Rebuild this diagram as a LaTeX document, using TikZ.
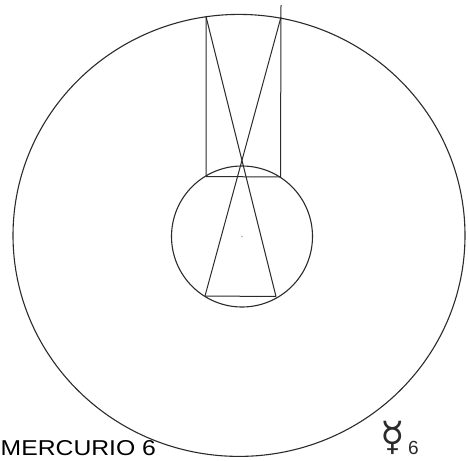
\documentclass[tikz,border=0pt]{standalone}
\usepackage{fontspec}
\setmainfont{Liberation Sans}
\newfontfamily\symfont{DejaVu Sans}
\usetikzlibrary{calc}
\definecolor{Ink}{HTML}{2B2B2B}
\tikzset{
  orbit/.style={draw=Ink, line width=1.1pt},
  ray/.style={draw=Ink, line width=1pt},
  caption/.style={inner sep=0pt, anchor=base west, text=black,
    font=\fontsize{21.5}{24}\selectfont},
}

\begin{document}
\begin{tikzpicture}[x=1pt,y=-1pt]
  \useasboundingbox (0,0) rectangle (468,460);
  % centres
  \coordinate (o) at (239,235.4);
  \coordinate (c) at (242,236.5);
  \draw[orbit] (o) ellipse [x radius=226, y radius=221];
  \draw[orbit] (c) circle [radius=70.5];
  \fill[black!30] (c) circle [radius=0.9];
  % rectangle and chords
  \coordinate (tl) at (206,16.5);
  \coordinate (tr) at (281,17);
  \coordinate (tt) at (281,5);
  \coordinate (ml) at (206,176.5);
  \coordinate (mr) at (280.5,177);
  \coordinate (bl) at (205,296);
  \coordinate (br) at (276,296.5);
  \draw[ray] (tl) -- (ml) -- (mr) -- (tt);
  \draw[ray] (tl) -- (br);
  \draw[ray] (tr) -- (bl);
  \draw[ray] (bl) -- (br);
  % labels
  \node[caption, xscale=1.15] (title) at (0.5,455.5) {MERCURIO 6};
  \node[inner sep=0pt, text=Ink, font=\symfont\fontsize{40}{40}\selectfont] (merc) at (392.5,437.5) {☿};
  \node[inner sep=0pt, text=Ink, font=\fontsize{19}{19}\selectfont] (six) at (413.5,448) {6};
\end{tikzpicture}
\end{document}
